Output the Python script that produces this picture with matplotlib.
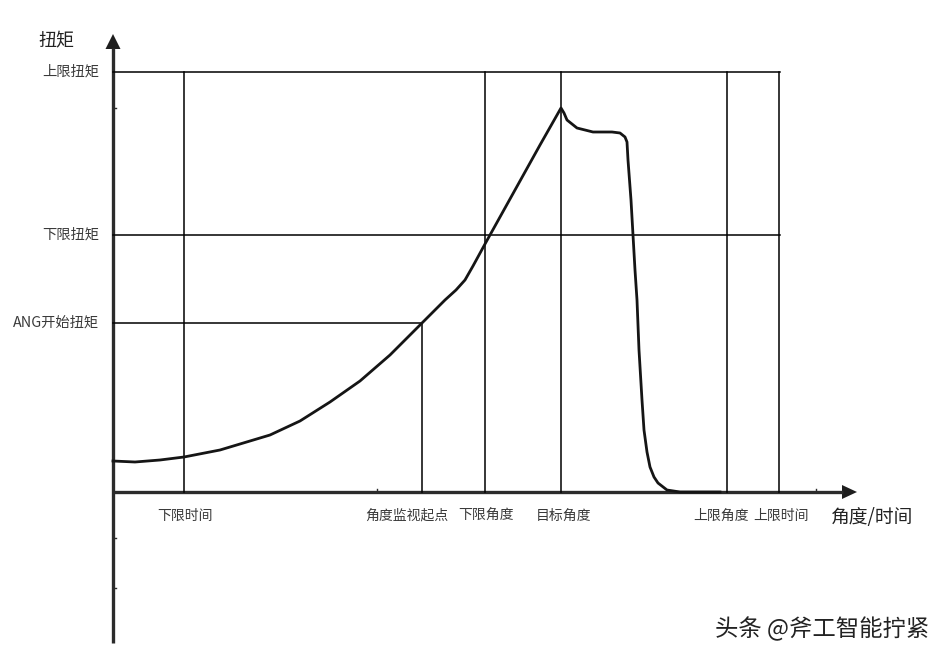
import matplotlib
matplotlib.use('Agg')
import matplotlib.pyplot as plt

plt.rcParams['font.family'] = ['Noto Sans CJK SC', 'DejaVu Sans']

# torque curve (angle offset, torque offset)
curve_x = [0, 22, 47, 71, 107, 157, 187, 217, 247, 277, 309, 332, 343, 352,
           360, 372, 387, 407, 427, 448, 451, 454, 464, 480, 499, 507, 512,
           514, 515, 518, 520, 522, 524, 526, 529, 531, 534, 537, 541, 545,
           554, 567, 607]
curve_y = [31, 30, 32, 35, 42, 57, 71, 90, 111, 137, 169, 192, 202, 212,
           226, 248, 275, 311, 347, 384, 379, 372, 364, 360, 360, 359, 355,
           350, 332, 292, 257, 222, 192, 142, 92, 62, 40, 25, 15, 9,
           2, 0, 0]

# torque levels and their labels
torque_levels = [420, 257, 169]
torque_labels = ['上限扭矩', '下限扭矩', 'ANG开始扭矩']
torque_ends = [667, 667, 309]

# angle / time marks and their labels
angle_marks = [71, 309, 372, 448, 614, 666]
angle_labels = ['下限时间', '角度监视起点', '下限角度', '目标角度', '上限角度', '上限时间']
angle_tops = [420, 169, 420, 420, 420, 420]
label_x = [72, 294, 373, 451, 608, 668]

fig = plt.figure(figsize=(9.52, 6.6), dpi=100)
ax = fig.add_axes([0, 0, 1, 1])
ax.set_xlim(-113, 839)
ax.set_ylim(-168, 492)
ax.axis('off')

axis_color = '#2b2b2b'
text_color = '#3a3a3a'

# axes with arrow heads
ax.plot([0, 0], [-151, 444], color=axis_color, lw=2.4, solid_capstyle='butt')
ax.plot([0, 730], [0, 0], color=axis_color, lw=2.4, solid_capstyle='butt')
ax.fill([-7.5, 7.5, 0], [443, 443, 458], color='#1e1e1e', lw=0)
ax.fill([729, 729, 744], [7, -7, 0], color='#1e1e1e', lw=0)

# small ticks
for ty in [384, -46, -96]:
    ax.plot([0, 3], [ty, ty], color=axis_color, lw=1)
for tx in [264, 703]:
    ax.plot([tx, tx], [0, 3], color=axis_color, lw=1)

# grid of limits
for lvl, end in zip(torque_levels, torque_ends):
    ax.plot([0, end], [lvl, lvl], color='black', lw=1.1)
for xm, top in zip(angle_marks, angle_tops):
    ax.plot([xm, xm], [0, top], color='black', lw=1.1)

# torque curve
ax.plot(curve_x, curve_y, color='#151515', lw=2.0, solid_joinstyle='round')

# labels
for lvl, lab in zip(torque_levels, torque_labels):
    ax.text(-14, lvl, lab, ha='right', va='center', fontsize=10.3, color=text_color)
for lx, lab in zip(label_x, angle_labels):
    ax.text(lx, -24, lab, ha='center', va='center', fontsize=10, color=text_color)

ax.text(-57, 451, '扭矩', ha='center', va='center', fontsize=13, color='#222222')
ax.text(759, -25, '角度/时间', ha='center', va='center', fontsize=13.5, color='#222222')
ax.text(709, -137, '头条 @斧工智能拧紧', ha='center', va='center', fontsize=16.8,
        color='#222222')

fig.savefig('out.png', dpi=100)
